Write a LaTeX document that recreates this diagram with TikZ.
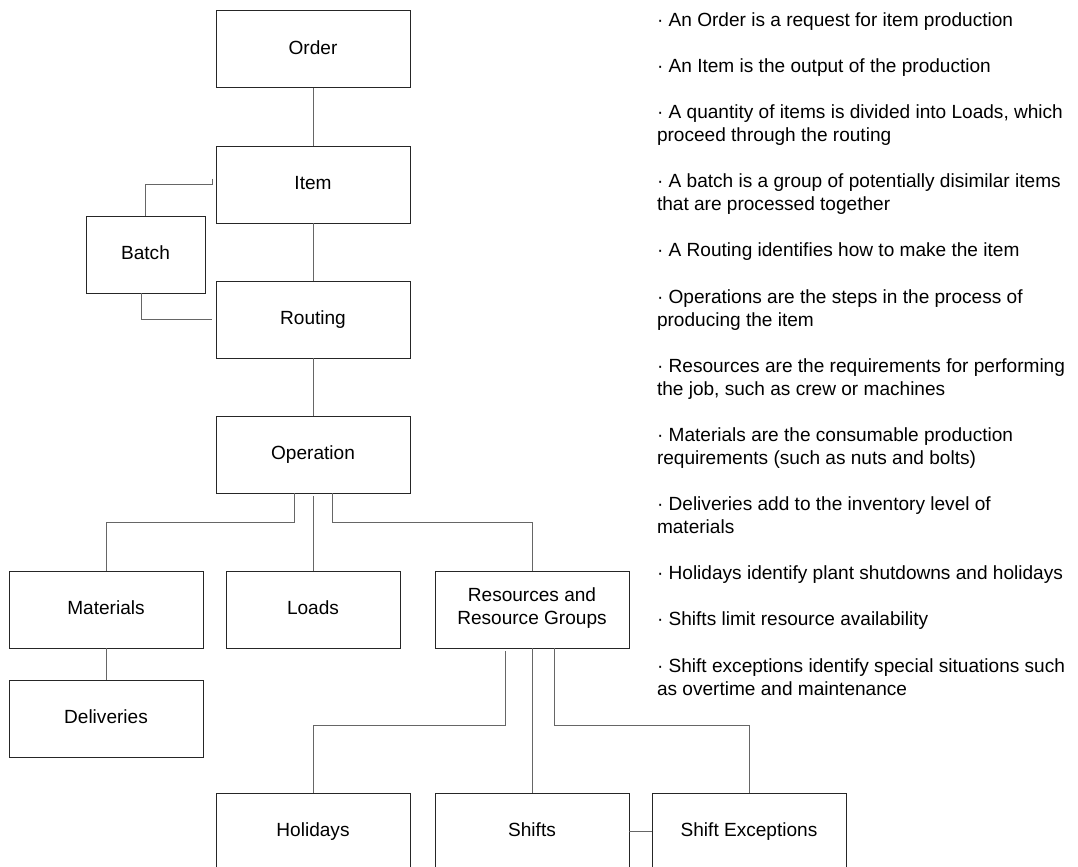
\documentclass[tikz,border=0pt]{standalone}
\usepackage{fontspec}
\setmainfont{Liberation Sans}
\usetikzlibrary{positioning,calc}
\newcommand{\efont}{\fontsize{14.3pt}{17.3pt}\selectfont}
\tikzstyle{ebox}=[rectangle, draw=black!85, line width=0.75pt, outer sep=0pt,
                  minimum width=145.5pt, minimum height=57.75pt, inner sep=2pt,
                  align=center, font=\efont, execute at begin node=\strut]
\tikzstyle{eline}=[-, draw=black!60, line width=0.75pt]
\tikzstyle{note}=[inner sep=0pt, outer sep=0pt, anchor=north west, align=left, font=\efont]

\begin{document}
\begin{tikzpicture}[x=0.75pt, y=-0.75pt, node distance=0mm]
\fill[white, use as bounding box] (0,0) rectangle (1078,867);
\clip (0,0) rectangle (1078,867);

\node (Order) [ebox] at (313,49.5) {Order};
\node (Item) [ebox, below=43.5pt of Order] {Item};
 \draw[eline] (Order) -- (Item);
\node (Routing) [ebox, below=43.5pt of Item] {Routing};
 \draw[eline] (Item) -- (Routing);
\node (Batch) [ebox, minimum width=89.25pt] at (145.5,254.5) {Batch};
 \draw[eline] ([shift={(-4,-6)}]Item.west) -- ++(0,6) -| (Batch.north);
 \draw[eline] ([shift={(-4,0)}]Batch.south) |- ([shift={(-4,0)}]Routing.west);
\node (Operation) [ebox, below=43.5pt of Routing] {Operation};
 \draw[eline] (Routing) -- (Operation);
\node (Loads) [ebox, minimum width=130.5pt, below=58.5pt of Operation] {Loads};
 \draw[eline] ([shift={(0,3)}]Operation.south) -- (Loads.north);
\node (Materials) [ebox, left=17.25pt of Loads] {Materials};
 \draw[eline] ([shift={(-19,0)}]Operation.south) -- ++(0,29) -| (Materials.north);
\node (Resources) [ebox, right=26.25pt of Loads] {Resources and\\Resource Groups};
 \draw[eline] ([shift={(19,0)}]Operation.south) -- ++(0,29) -| (Resources.north);
\node (Deliveries) [ebox, below=24pt of Materials] {Deliveries};
 \draw[eline] (Materials) -- (Deliveries);
\node (Shifts) [ebox, below=108.75pt of Resources] {Shifts};
 \draw[eline] (Resources) -- (Shifts);
\node (Holidays) [ebox, left=18.75pt of Shifts] {Holidays};
 \draw[eline] ([shift={(-27,3)}]Resources.south) -- ++(0,74) -| (Holidays.north);
\node (ShiftExc) [ebox, right=17.25pt of Shifts] {Shift Exceptions};
 \draw[eline] ([shift={(22,0)}]Resources.south) -- ++(0,77) -| (ShiftExc.north);
 \draw[eline] (Shifts) -- (ShiftExc);

\node (nOrder) [note] at (657,12.35) {· An Order is a request for item production};
\node (nItem) [note] at (657,58.5) {· An Item is the output of the production};
\node (nLoads) [note] at (657,104.6) {· A quantity of items is divided into Loads, which\\proceed through the routing};
\node (nBatch) [note] at (657,173.8) {· A batch is a group of potentially disimilar items\\that are processed together};
\node (nRouting) [note] at (657,243.0) {· A Routing identifies how to make the item};
\node (nOperation) [note] at (657,289.2) {· Operations are the steps in the process of\\producing the item};
\node (nResources) [note] at (657,358.4) {· Resources are the requirements for performing\\the job, such as crew or machines};
\node (nMaterials) [note] at (657,427.5) {· Materials are the consumable production\\requirements (such as nuts and bolts)};
\node (nDeliveries) [note] at (657,496.7) {· Deliveries add to the inventory level of\\materials};
\node (nHolidays) [note] at (657,565.9) {· Holidays identify plant shutdowns and holidays};
\node (nShifts) [note] at (657,612.1) {· Shifts limit resource availability};
\node (nShiftExc) [note] at (657,658.3) {· Shift exceptions identify special situations such\\as overtime and maintenance};

\end{tikzpicture}
\end{document}
